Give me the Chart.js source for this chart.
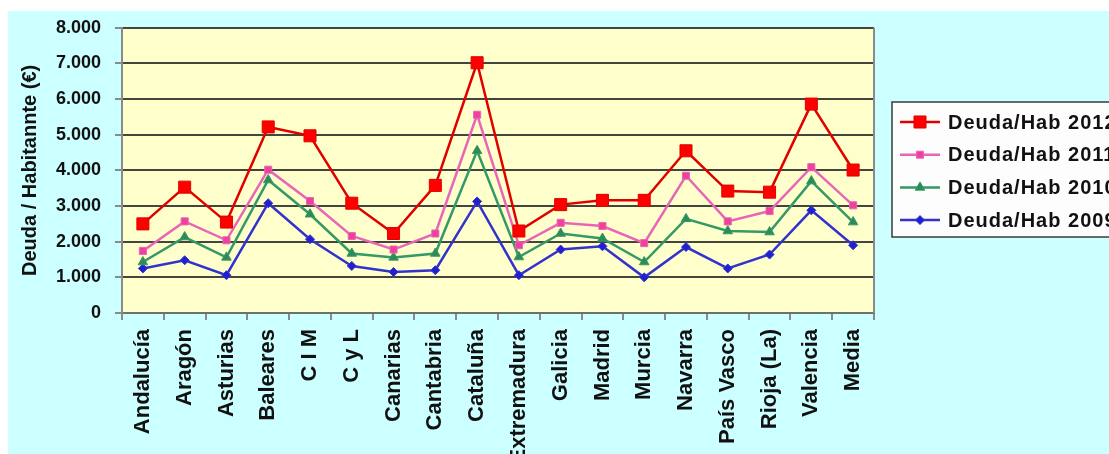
<!DOCTYPE html>
<html lang="es">
<head>
<meta charset="utf-8">
<title>Deuda por habitante</title>
<script src="https://cdn.jsdelivr.net/npm/chart.js@4.4.1/dist/chart.umd.min.js"></script>
<style>
	html, body { margin: 0; padding: 0; background: #ffffff; overflow: hidden; }
	#fondo {
		position: absolute; left: 8px; top: 11px;
		width: 1101px; height: 443px;
		background: #ccffff;
	}
	#grafico { position: absolute; left: 8px; top: 3px; display: block; }
</style>
</head>
<body>
<div id="fondo"></div>
<canvas id="grafico" width="1101" height="451"></canvas>
<script>
// Comunidades autónomas (eje X)
let comunidades = ['Andalucía', 'Aragón', 'Asturias', 'Baleares', 'C I M', 'C y L', 'Canarias', 'Cantabria', 'Cataluña',
	'Extremadura', 'Galicia', 'Madrid', 'Murcia', 'Navarra', 'País Vasco', 'Rioja (La)', 'Valencia', 'Media'];

// Deuda por habitante (€) de cada año
let deuda2012 = [2500, 3530, 2550, 5220, 4970, 3080, 2230, 3580, 7020, 2300, 3040, 3160, 3160, 4550, 3420, 3390, 5860, 4010];
let deuda2011 = [1740, 2570, 2040, 4020, 3140, 2160, 1780, 2230, 5560, 1900, 2530, 2440, 1960, 3850, 2570, 2860, 4090, 3020];
let deuda2010 = [1430, 2130, 1560, 3730, 2770, 1670, 1560, 1670, 4550, 1570, 2230, 2090, 1430, 2640, 2300, 2270, 3700, 2550];
let deuda2009 = [1250, 1480, 1060, 3080, 2070, 1320, 1150, 1200, 3130, 1060, 1780, 1870, 1000, 1850, 1250, 1640, 2880, 1900];

let etiquetas = ['Deuda/Hab 2012', 'Deuda/Hab 2011', 'Deuda/Hab 2010', 'Deuda/Hab 2009'];

const FUENTE = '"Liberation Sans", Arial, sans-serif';

function serie(label, data, linea, relleno, estilo, radio) {
	return {
		label: label,
		data: data,
		borderColor: linea,
		borderWidth: 2.5,
		backgroundColor: relleno,
		pointStyle: estilo,
		pointRadius: radio,
		pointHoverRadius: radio,
		pointBackgroundColor: relleno,
		pointBorderColor: linea,
		pointBorderWidth: 1,
		tension: 0,
		fill: false,
	};
}

// Miles con punto: 8000 -> 8.000
function miles(v) {
	return String(v).replace(/\B(?=(\d{3})+(?!\d))/g, '.');
}

// Fondo amarillo del área de trazado y borde derecho
let fondoArea = {
	id: 'fondoArea',
	beforeDraw(chart) {
		let a = chart.chartArea;
		let ctx = chart.ctx;
		ctx.save();
		ctx.fillStyle = '#ffffcc';
		ctx.fillRect(a.left, a.top, a.right - a.left, a.bottom - a.top);
		ctx.restore();
	},
	beforeDatasetsDraw(chart) {
		let a = chart.chartArea;
		let ctx = chart.ctx;
		ctx.save();
		ctx.strokeStyle = '#8a8a8a';
		ctx.lineWidth = 2;
		ctx.beginPath();
		ctx.moveTo(a.right, a.top);
		ctx.lineTo(a.right, a.bottom);
		ctx.stroke();
		ctx.restore();
	}
};

// Leyenda dibujada a mano: línea + marcador + texto, dentro de un recuadro
let leyenda = {
	id: 'leyenda',
	afterDraw(chart) {
		let ctx = chart.ctx;
		let x0 = 884, y0 = 99, alto = 135;
		ctx.save();
		ctx.fillStyle = '#fdfdfd';
		ctx.fillRect(x0, y0, 260, alto);
		ctx.strokeStyle = '#3a3a3a';
		ctx.lineWidth = 1.5;
		ctx.strokeRect(x0, y0, 260, alto);
		chart.data.datasets.forEach((ds, i) => {
			let y = y0 + 20 + i * 32.7;
			ctx.strokeStyle = ds.borderColor;
			ctx.lineWidth = ds.borderWidth;
			ctx.beginPath();
			ctx.moveTo(x0 + 8, y);
			ctx.lineTo(x0 + 48, y);
			ctx.stroke();
			ctx.fillStyle = ds.pointBackgroundColor;
			ctx.strokeStyle = ds.pointBorderColor;
			ctx.lineWidth = ds.pointBorderWidth;
			Chart.helpers.drawPoint(ctx, { pointStyle: ds.pointStyle, radius: ds.pointRadius, rotation: 0, borderWidth: 1 }, x0 + 28, y);
			ctx.fillStyle = '#111111';
			ctx.font = 'bold 20px ' + FUENTE;
			ctx.letterSpacing = '1px';
			ctx.textAlign = 'left';
			ctx.textBaseline = 'middle';
			ctx.fillText(ds.label, x0 + 56, y + 1);
			ctx.letterSpacing = '0px';
		});
		ctx.restore();
	}
};

function dibujarGrafico() {
	let ctx = document.getElementById('grafico');
	let config = {
		type: 'line',
		data: {
			labels: comunidades,
			datasets: [
				serie(etiquetas[0], deuda2012, '#e00000', '#ff0000', 'rect', 8.5),
				serie(etiquetas[1], deuda2011, '#e866b8', '#f0409c', 'rect', 5),
				serie(etiquetas[2], deuda2010, '#339966', '#2e8b57', 'triangle', 5.5),
				serie(etiquetas[3], deuda2009, '#3333cc', '#2020d0', 'rectRot', 4.5),
			],
		},
		options: {
			responsive: false,
			animation: false,
			events: [],
			layout: { padding: { top: 8, right: 235, left: 0, bottom: 0 } },
			plugins: {
				legend: { display: false },
				tooltip: { enabled: false },
			},
			scales: {
				x: {
					offset: true,
					afterFit: (scale) => { scale.height = 141; },
					grid: {
						offset: true,
						drawOnChartArea: false,
						drawTicks: true,
						tickLength: 7,
						color: '#8a8a8a',
						lineWidth: 2,
					},
					border: { display: true, color: '#707070', width: 2 },
					ticks: {
						autoSkip: false,
						maxRotation: 90,
						minRotation: 90,
						padding: 9,
						color: '#111111',
						font: { family: FUENTE, size: 22, weight: 'bold' },
					},
				},
				y: {
					min: 0,
					max: 8000,
					afterFit: (scale) => { scale.width = 114; },
					grid: {
						color: '#45453f',
						lineWidth: 2,
						drawTicks: true,
						tickLength: 7,
						tickColor: '#8a8a8a',
					},
					border: { display: true, color: '#8a8a8a', width: 2 },
					ticks: {
						stepSize: 1000,
						padding: 14,
						color: '#111111',
						font: { family: FUENTE, size: 18, weight: 'bold' },
						callback: (v) => miles(v),
					},
					title: {
						display: true,
						text: 'Deuda / Habitannte (€)',
						color: '#111111',
						padding: { top: 10, bottom: 0 },
						font: { family: FUENTE, size: 20, weight: 'bold' },
					},
				},
			},
		},
		plugins: [fondoArea, leyenda],
	};
	return new Chart(ctx, config);
}

dibujarGrafico();
</script>
</body>
</html>
